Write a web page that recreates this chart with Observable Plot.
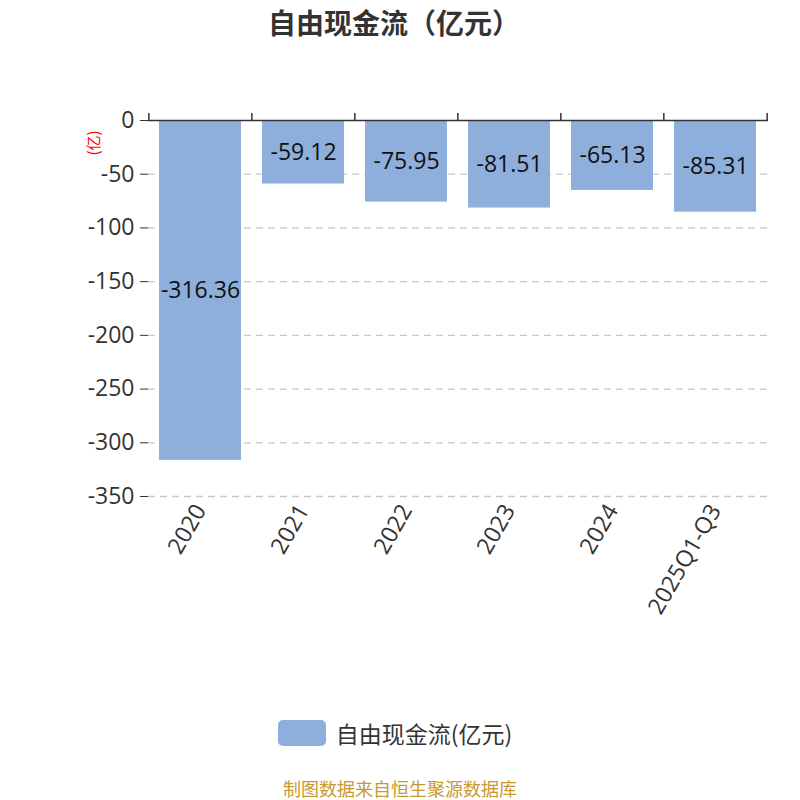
<!DOCTYPE html>
<html><head><meta charset="utf-8">
<script src="https://cdn.jsdelivr.net/npm/d3@7"></script>
<script src="https://cdn.jsdelivr.net/npm/@observablehq/plot@0.6"></script>
<style>
body{margin:0;background:#fff;font-family:"Open Sans","Noto Sans CJK SC",sans-serif;}
#wrap{position:relative;width:800px;height:800px;overflow:hidden;}
#title{position:absolute;top:2px;left:0;width:788px;text-align:center;font:bold 28px "Noto Sans CJK SC",sans-serif;color:#333;}
#chart{position:absolute;top:0;left:0;}
#legend{position:absolute;top:716px;left:0;width:800px;display:flex;justify-content:center;align-items:center;font:23px "Noto Sans CJK SC",sans-serif;color:#333;}
#legend .sw{width:48px;height:26px;border-radius:5px;background:#8eaedb;margin-right:10px;margin-left:-10px}
#caption{position:absolute;top:775px;left:0;width:800px;text-align:center;font:18px "Noto Sans CJK SC",sans-serif;color:#c9982f;}
</style></head>
<body><div id="wrap">
<div id="title">自由现金流（亿元）</div>
<div id="chart"></div>
<div id="legend"><div class="sw"></div><span>自由现金流(亿元)</span></div>
<div id="caption">制图数据来自恒生聚源数据库</div>
</div>
<script>
const categories = ["2020","2021","2022","2023","2024","2025Q1-Q3"];
const values = [-316.36,-59.12,-75.95,-81.51,-65.13,-85.31];
const yTicks = [0,-50,-100,-150,-200,-250,-300,-350];
const gridTicks = [-50,-100,-150,-200,-250,-300,-350];
const seriesName = "自由现金流(亿元)";

const data = categories.map((c,i)=>({cat:c, value:values[i]}));
const W = 800, H = 700, mL = 148, mR = 32, mT = 120, mB = 204;
const step = (W - mL - mR) / categories.length;

const chart = Plot.plot({
  width: W, height: H,
  marginLeft: mL, marginRight: mR, marginTop: mT, marginBottom: mB,
  style: {fontFamily: '"Open Sans","Noto Sans CJK SC",sans-serif', color: "#333", background: "transparent"},
  x: {domain: categories, paddingInner: 0.2, paddingOuter: 0.1, label: null},
  y: {domain: [-350, 0], label: null},
  marks: [
    Plot.ruleY(gridTicks, {stroke: "#c8c8c8", strokeWidth: 1.3, strokeDasharray: "7,5"}),
    Plot.barY(data, {x: "cat", y: "value", fill: "#8eaedb"}),
    Plot.text(data, {x: "cat", y: d => d.value / 2, text: d => d.value.toFixed(2), fill: "#111", fontSize: 23}),
    Plot.ruleY([0], {stroke: "#333", strokeWidth: 1.5}),
    Plot.ruleX(categories, {x: d => d, y1: 0, y2: 6.5, dx: -step/2, stroke: "#333", strokeWidth: 1.5}),
    Plot.ruleX(categories.slice(-1), {x: d => d, y1: 0, y2: 6.5, dx: step/2, stroke: "#333", strokeWidth: 1.5}),
    Plot.axisY({ticks: yTicks, tickSize: 8, tickPadding: 6, tickFormat: d => String(d), fontSize: 23, stroke: "#333", color: "#333", label: null}),
    Plot.ruleX([0], {frameAnchor: "left", y1: -350, y2: 0, stroke: "#333", strokeWidth: 1.5}),
    Plot.axisX({anchor: "bottom", tickSize: 0, tickPadding: 10, tickRotate: -60, fontSize: 23, color: "#333", label: null}),
    Plot.text(["(亿)"], {frameAnchor: "top-left", dx: -60, dy: 35, rotate: -90, fill: "red", fontSize: 15, fontFamily: '"Noto Sans CJK SC",sans-serif'})
  ]
});
document.getElementById("chart").appendChild(chart);
</script>
</body></html>
